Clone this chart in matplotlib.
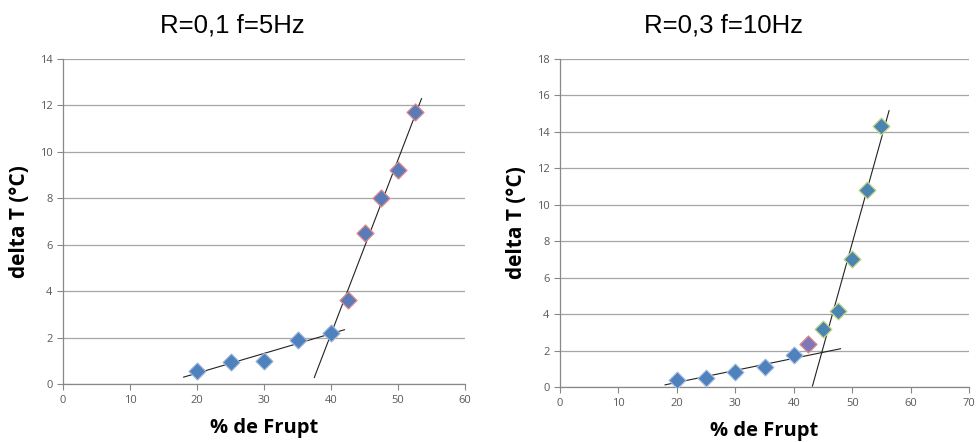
import matplotlib
matplotlib.use("Agg")
import matplotlib.pyplot as plt
import numpy as np

# Left chart: R=0,1 f=5Hz
x_left = [20, 25, 30, 35, 40, 42.5, 45, 47.5, 50, 52.6]
y_left = [0.55, 0.95, 1.0, 1.9, 2.2, 3.6, 6.5, 8.0, 9.2, 11.7]
left_low_n = 5           # points used for low trendline
left_low_range = (18, 42)
left_high_range = (37.5, 53.5)

# Right chart: R=0,3 f=10Hz
x_right = [20, 25, 30, 35, 40, 42.5, 45, 47.5, 50, 52.5, 55]
y_right = [0.4, 0.5, 0.85, 1.1, 1.75, 2.35, 3.2, 4.2, 7.0, 10.8, 14.3]
right_low_n = 5
right_high_start = 6
right_low_range = (18, 48)
right_high_range = (43.2, 56.3)

titles = ["R=0,1 f=5Hz", "R=0,3 f=10Hz"]
xlabel = "% de Frupt"
ylabel = "delta T (°C)"

fig = plt.figure(figsize=(9.77, 4.42), dpi=100)
axL = fig.add_axes([0.0645, 0.131, 0.4115, 0.736])
axR = fig.add_axes([0.573, 0.124, 0.419, 0.743])

blue = "#4F81BD"
grid_c = "#A6A6A6"
tick_c = "#595959"

def style(ax, xmax, ymax, ystep):
    ax.set_xlim(0, xmax)
    ax.set_ylim(0, ymax)
    ax.set_xticks(np.arange(0, xmax + 1, 10))
    ax.set_yticks(np.arange(0, ymax + 0.1, ystep))
    ax.yaxis.grid(True, color=grid_c, lw=0.9)
    ax.set_axisbelow(True)
    for s in ["top", "right"]:
        ax.spines[s].set_visible(False)
    for s in ["left", "bottom"]:
        ax.spines[s].set_color("#888888")
        ax.spines[s].set_linewidth(0.9)
    ax.tick_params(axis="both", colors="#888888", labelcolor=tick_c,
                   labelsize=8, length=4, width=0.8, direction="out")
    for lab in ax.get_xticklabels() + ax.get_yticklabels():
        lab.set_fontfamily("Open Sans")
    ax.set_xlabel(xlabel, fontsize=14.5, fontweight="bold", family="Open Sans", labelpad=9)
    ax.set_ylabel(ylabel, fontsize=15, fontweight="bold", family="Open Sans", labelpad=7)

def trend(ax, xs, ys, rng):
    k, b = np.polyfit(xs, ys, 1)
    xx = np.array(rng)
    ax.plot(xx, k * xx + b, color="#222222", lw=0.8, zorder=3)

# Left
style(axL, 60, 14, 2)
axL.scatter(x_left[:left_low_n], y_left[:left_low_n], marker="D", s=75, color=blue,
            edgecolors="#9DB6D8", linewidths=0.8, zorder=4)
axL.scatter(x_left[left_low_n:], y_left[left_low_n:], marker="D", s=75, color="#5A7BB8",
            edgecolors="#E08A8A", linewidths=0.9, zorder=4)
trend(axL, x_left[:left_low_n], y_left[:left_low_n], left_low_range)
trend(axL, x_left[left_low_n:], y_left[left_low_n:], left_high_range)

# Right
style(axR, 70, 18, 2)
axR.scatter(x_right[:right_low_n], y_right[:right_low_n], marker="D", s=75, color=blue,
            edgecolors="#A9C2E0", linewidths=0.8, zorder=4)
axR.scatter(x_right[right_low_n:right_high_start], y_right[right_low_n:right_high_start],
            marker="D", s=75, color="#7E78B8", edgecolors="#E08A8A", linewidths=0.9, zorder=4)
axR.scatter(x_right[right_high_start:], y_right[right_high_start:], marker="D", s=75,
            color="#4A84B0", edgecolors="#C9D98A", linewidths=0.9, zorder=4)
trend(axR, x_right[:right_low_n], y_right[:right_low_n], right_low_range)
trend(axR, x_right[right_high_start:], y_right[right_high_start:], right_high_range)

fig.text(232 / 977, 1 - 26 / 442, titles[0], fontsize=18.5, family="Liberation Sans",
         ha="center", va="center")
fig.text(723 / 977, 1 - 26 / 442, titles[1], fontsize=18.5, family="Liberation Sans",
         ha="center", va="center")

fig.savefig("out.png", dpi=100)
